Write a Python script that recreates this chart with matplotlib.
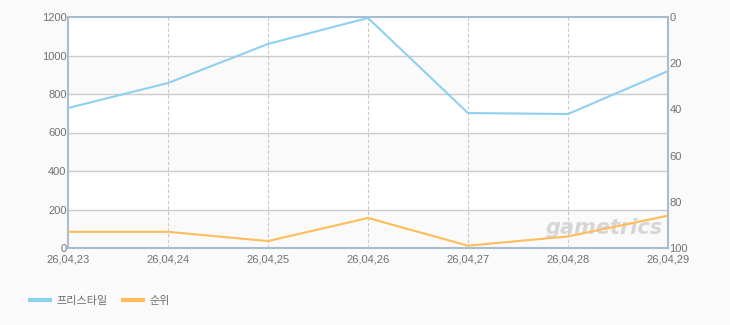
import matplotlib
matplotlib.use("Agg")
import matplotlib.pyplot as plt
from matplotlib.lines import Line2D

plt.rcParams['font.family'] = ['Liberation Sans', 'Noto Sans CJK KR', 'DejaVu Sans']

dates = ["26,04,23", "26,04,24", "26,04,25", "26,04,26", "26,04,27", "26,04,28", "26,04,29"]
players = [727, 857, 1060, 1195, 701, 696, 919]
rank = [93, 93, 97, 87, 99, 95, 86]
left_ticks = [0, 200, 400, 600, 800, 1000, 1200]
right_ticks = [0, 20, 40, 60, 80, 100]
series_names = ["프리스타일", "순위"]

blue = "#8fd0f0"
orange = "#fcbd5a"
spine = "#a9bdd1"
tick_color = "#707070"

fig = plt.figure(figsize=(7.3, 3.25), dpi=100)
fig.patch.set_facecolor("#fafafa")
ax = fig.add_axes([68/730, 1-248/325, 600/730, 231/325])
ax.set_facecolor("white")
x = list(range(len(dates)))
ax.set_xlim(0, len(dates) - 1)
ax.set_ylim(0, 1200)

for i in range(len(left_ticks) - 1):
    if i % 2 == 0:
        ax.axhspan(left_ticks[i], left_ticks[i+1], color="#fafafa", zorder=0)
for t in left_ticks[1:-1]:
    ax.axhline(t, color="#cccccc", lw=1, zorder=1)
for xi in x[1:-1]:
    ax.axvline(xi, color="#c8c8c8", lw=0.8, ls=(0, (3, 2)), zorder=1)

ax.set_yticks(left_ticks)
ax.set_xticks(x)
ax.set_xticklabels(dates)
ax.tick_params(axis='both', length=0, colors=tick_color, labelsize=8)
ax.tick_params(axis='x', pad=5)
ax.tick_params(axis='y', pad=1)
for s in ax.spines.values():
    s.set_color(spine)
    s.set_linewidth(1.5)

ax.text(0.893, 0.085, "gametrics", transform=ax.transAxes, fontsize=15, color="#d6d6d6",
        style="italic", fontweight="bold", ha="center", va="center", family="DejaVu Sans", zorder=2)

ax.plot(x, players, color=blue, lw=1.5, zorder=4, solid_capstyle="round")

ax2 = ax.twinx()
ax2.set_ylim(100, 0)
ax2.set_yticks(right_ticks)
ax2.tick_params(axis='y', length=0, colors=tick_color, labelsize=8, pad=1)
for s in ax2.spines.values():
    s.set_visible(False)
ax2.plot(x, rank, color=orange, lw=1.5, zorder=4, solid_capstyle="round")

handles = [Line2D([0], [0], color=blue, lw=3), Line2D([0], [0], color=orange, lw=3)]
fig.legend(handles, series_names, loc="center left", bbox_to_anchor=(30/730, 1-301/325), ncol=2,
           frameon=False, fontsize=8, handlelength=1.8, handletextpad=0.55, columnspacing=1.45,
           borderpad=0, borderaxespad=0, labelcolor=tick_color)

fig.savefig("out.png", dpi=100, facecolor=fig.get_facecolor())
